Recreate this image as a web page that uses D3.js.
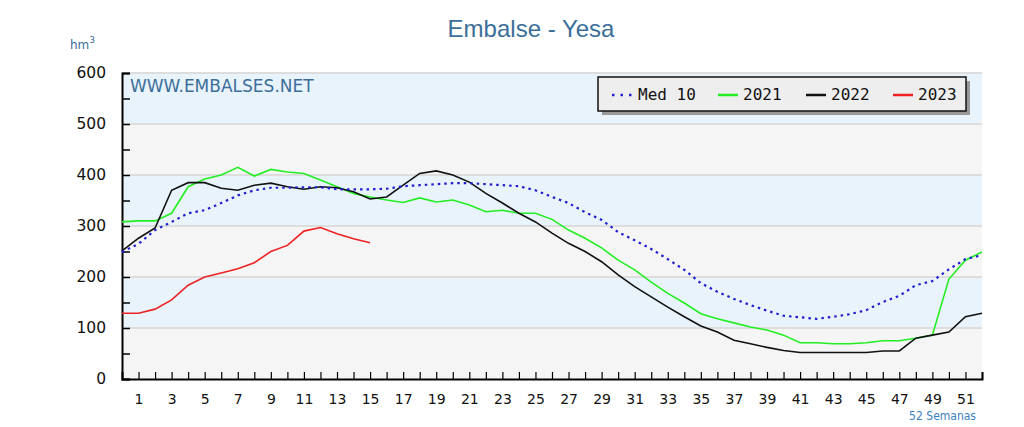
<!DOCTYPE html>
<html><head><meta charset="utf-8">
<script src="https://cdn.jsdelivr.net/npm/d3@7"></script>
<style>body{margin:0;background:#fff;}svg{display:block;}</style>
</head><body>
<svg id="c" width="1024" height="427"></svg>
<script>
const weeks = d3.range(0, 53);
const med10 = [249,265,292,308,325,331,345,360,370,375,375,376,376,372,372,372,373,378,380,382,384,384,382,380,378,370,357,345,327,312,288,272,255,235,214,188,171,157,145,134,124,121,118,122,127,135,151,163,184,192,215,235,243];
const y2021 = [308,310,310,325,377,392,400,415,398,411,406,403,390,377,364,357,351,346,355,347,351,341,328,331,325,325,313,292,276,257,233,214,190,168,149,128,118,110,102,96,86,71,71,69,69,71,75,75,80,86,196,233,249];
const y2022 = [251,276,296,370,385,385,374,370,380,384,377,372,377,375,367,353,357,380,403,408,400,386,364,345,325,308,286,266,250,230,204,181,161,141,122,104,92,76,69,62,56,52,52,52,52,52,55,55,80,86,92,122,129];
const y2023 = [129,129,137,155,184,200,208,216,228,250,262,290,297,285,275,267];
const yTicks = [0,100,200,300,400,500,600];
const xTickLabels = d3.range(1, 53, 2);
const legendItems = [
  {name:"Med 10", color:"#2020d0", dash:"2.5,4"},
  {name:"2021", color:"#22ee22", dash:null},
  {name:"2022", color:"#111111", dash:null},
  {name:"2023", color:"#ee2222", dash:null}
];

const svg = d3.select("#c");
const L = 122, R = 982, T = 73, B = 379;
const x = d3.scaleLinear().domain([0,52]).range([L,R]);
const y = d3.scaleLinear().domain([0,600]).range([B,T]);

// bands
const bands = d3.range(0,600,100);
svg.selectAll("rect.band").data(bands).enter().append("rect")
  .attr("x", L).attr("width", R-L)
  .attr("y", d=>y(d+100)).attr("height", d=>y(d)-y(d+100))
  .attr("fill", (d,i)=> i%2===0 ? "#f5f5f5" : "#e9f3fb");
// grid
svg.selectAll("line.grid").data(yTicks.slice(1)).enter().append("line")
  .attr("x1", L).attr("x2", R).attr("y1", d=>y(d)).attr("y2", d=>y(d))
  .attr("stroke", "#dddddd").attr("stroke-width", 2);

// title
svg.append("text").attr("x", 531).attr("y", 37).attr("text-anchor","middle")
  .attr("font-family","Liberation Sans, Arial, sans-serif").attr("font-size",24)
  .attr("fill","#3b6e99").text("Embalse - Yesa");
const hm = svg.append("text").attr("x",70).attr("y",49)
  .attr("font-family","DejaVu Sans, sans-serif").attr("font-size",12).attr("fill","#3b6e99");
hm.append("tspan").text("hm");
hm.append("tspan").attr("dy",-6).attr("font-size",9).text("3");

// watermark
svg.append("text").attr("x",130).attr("y",92)
  .attr("font-family","DejaVu Sans, Verdana, sans-serif").attr("font-size",17)
  .attr("fill","#3b6e99").text("WWW.EMBALSES.NET");

// y axis
const yAxis = d3.axisLeft(y).tickValues(d3.range(0,601,50)).tickSize(-8).tickPadding(16)
  .tickFormat(d => d%100===0 ? d : "");
const gy = svg.append("g").attr("transform",`translate(${L},0)`).call(yAxis);
gy.select(".domain").attr("stroke","#000").attr("stroke-width",2);
gy.selectAll(".tick line").attr("stroke","#000").attr("stroke-width",1.5);
gy.selectAll(".tick text").attr("font-family","DejaVu Sans, Verdana, sans-serif").attr("font-size",15.5).attr("fill","#111");

// x axis
const xAxis = d3.axisBottom(x).tickValues(d3.range(1,53)).tickSize(-7).tickPadding(15)
  .tickFormat(d => xTickLabels.includes(d) ? d : "");
const gx = svg.append("g").attr("transform",`translate(0,${B})`).call(xAxis);
gx.select(".domain").attr("stroke","#000").attr("stroke-width",2);
gx.selectAll(".tick line").attr("stroke","#000").attr("stroke-width",1.2);
gx.selectAll(".tick text").attr("font-family","DejaVu Sans, Verdana, sans-serif").attr("font-size",14).attr("fill","#111");

svg.append("text").attr("x",976).attr("y",420).attr("text-anchor","end")
  .attr("font-family","DejaVu Sans Condensed, DejaVu Sans, sans-serif").attr("font-size",12)
  .attr("fill","#3b7fbf").text("52 Semanas");

// lines
const line = d3.line().x((d,i)=>x(weeks[i])).y(d=>y(d));
const series = [
  {data:y2021, color:"#22ee22", dash:null},
  {data:y2022, color:"#111111", dash:null},
  {data:y2023, color:"#ee2222", dash:null},
  {data:med10, color:"#2020d0", dash:"2.5,4"}
];
svg.selectAll("path.s").data(series).enter().append("path")
  .attr("d", d=>line(d.data)).attr("fill","none")
  .attr("stroke", d=>d.color).attr("stroke-width", d=>d.dash?2.2:1.6)
  .attr("stroke-dasharray", d=>d.dash);

// legend
const lg = svg.append("g");
lg.append("rect").attr("x",602).attr("y",81).attr("width",368).attr("height",34).attr("fill","#999");
lg.append("rect").attr("x",598).attr("y",77).attr("width",368).attr("height",34)
  .attr("fill","#eeeeee").attr("stroke","#111").attr("stroke-width",1.5);
const lx = [612, 718, 806, 893];
legendItems.forEach((it,i)=>{
  lg.append("line").attr("x1",lx[i]).attr("x2",lx[i]+20).attr("y1",95).attr("y2",95)
    .attr("stroke",it.color).attr("stroke-width", 2.5).attr("stroke-dasharray",it.dash ? "2.5,6" : null);
  lg.append("text").attr("x",lx[i]+(it.dash?26:25)).attr("y",100)
    .attr("font-family","DejaVu Sans Mono, monospace").attr("font-size",16).attr("fill","#111").text(it.name);
});
</script>
</body></html>
